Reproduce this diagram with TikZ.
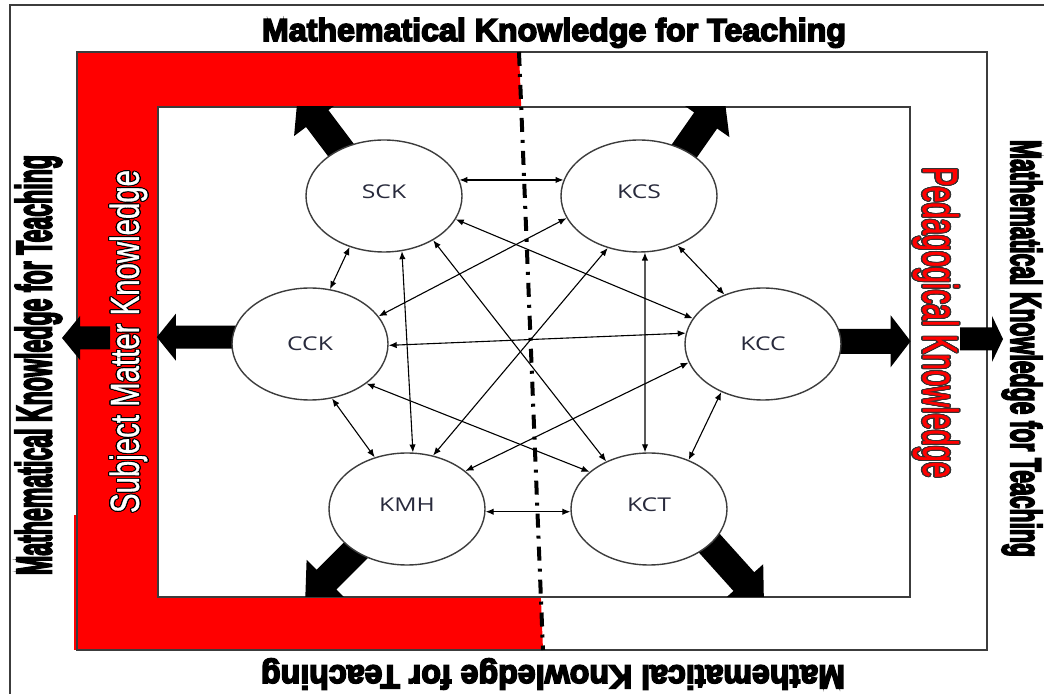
\documentclass[tikz,border=0pt]{standalone}
\usepackage{fontspec}
\setmainfont{Liberation Sans}
\newfontfamily\ttlfont{Liberation Sans}[FakeBold=5]
\newfontfamily\sidefont{Liberation Sans}[FakeBold=1]
\newfontfamily\labfont{Open Sans}[FakeStretch=1.3]
\usepackage[copies]{contour}
\contourlength{0.3pt}
\contournumber{16}
\usetikzlibrary{arrows.meta,shapes.geometric}
\definecolor{pkred}{RGB}{255,0,0}
\definecolor{edge}{RGB}{60,60,60}
\definecolor{labc}{RGB}{40,42,60}
\pgfdeclarelayer{back}
\pgfsetlayers{back,main}
\newcommand{\blkarrow}[6]{\fill[black,shift={#1},rotate=#2] (-10,-#5) -- (#3,-#5) -- (#3,-#6) -- ({#3+#4},0) -- (#3,#6) -- (#3,#5) -- (-10,#5) -- cycle;}
\tikzset{
  know/.style={ellipse, draw=edge, line width=0.7pt, fill=white, minimum width=78pt, minimum height=56pt, inner sep=0pt, font=\labfont\fontsize{9.5}{10}\selectfont, text=labc},
  link/.style={{Latex[length=4pt,width=3.2pt]}-{Latex[length=4pt,width=3.2pt]}, line width=0.55pt, black},
  frame/.style={draw=edge, line width=0.8pt},
  dashdotline/.style={black, line width=2pt, dash pattern=on 7pt off 4pt on 1.5pt off 4pt},
  txt/.style={inner sep=0pt}
}
\begin{document}
\begin{tikzpicture}[x=0.5pt,y=-0.5pt]
\useasboundingbox (0,0) rectangle (1044,694);
\clip (0,0) rectangle (1044,694);

% knowledge nodes
\node[know] (SCK) at (384,196) {\raisebox{4pt}{SCK}};
\node[know] (KCS) at (639,196) {\raisebox{4pt}{KCS}};
\node[know] (CCK) at (310,344) {CCK};
\node[know] (KCC) at (763,344) {KCC};
\node[know] (KMH) at (407,509) {\raisebox{4pt}{KMH}};
\node[know] (KCT) at (649,509) {\raisebox{4pt}{KCT}};

\begin{pgfonlayer}{back}
\fill[white] (0,0) rectangle (1044,694);
\draw[frame] (10,720) -- (10,5) -- (1060,5);
\draw[frame, fill=white] (77,52) rectangle (987,650);
\fill[pkred] (77,52) -- (519,52) -- (543,650) -- (77,650) -- cycle;
\draw[frame] (77,52) rectangle (987,650);
\draw[pkred, line width=0.6pt] (75,515) -- (75,650);
\draw[frame, fill=white] (158,107) rectangle (910,597);
\draw[dashdotline] (519,52) -- (543,650);
\begin{scope}
\clip (158,107) rectangle (910,597);
\blkarrow{(SCK.133)}{127}{38}{32}{14}{29}
\blkarrow{(KCS.45)}{55}{36}{32}{14}{29}
\blkarrow{(KMH.219)}{225}{40}{30}{14}{28}
\blkarrow{(KCT.-30)}{-48}{50}{30}{14}{26}
\end{scope}
\blkarrow{(CCK.175)}{180}{56}{19}{11.5}{23.5}
\blkarrow{(KCC.2)}{0}{49}{20}{12.5}{26}
\blkarrow{(100,338)}{180}{20}{18}{11.5}{22}
\blkarrow{(970,339)}{0}{22}{11}{11.5}{23}
\end{pgfonlayer}

% connectors
\draw[link] (SCK.12) -- (KCS.168);
\draw[link] (SCK.236) -- (CCK.70);
\draw[link] (SCK.-72) -- (KMH.84);
\draw[link] (SCK.-42) -- (KCT.132);
\draw[link] (SCK.-18) -- (KCC.160);
\draw[link] (KCS.197) -- (CCK.22);
\draw[link] (KCS.-121) -- (KMH.64);
\draw[link] (KCS.-84) -- (KCT.94);
\draw[link] (KCS.-52) -- (KCC.128);
\draw[link] (CCK.-1) -- (KCC.172);
\draw[link] (CCK.-35) -- (KCT.148);
\draw[link] (CCK.-68) -- (KMH.122);
\draw[link] (KMH.33) -- (KCC.194);
\draw[link] (KMH.-2) -- (KCT.182);
\draw[link] (KCC.-131) -- (KCT.51);

% texts
\node[txt, anchor=base] (ttop) at (554,41) {\resizebox{292pt}{11.5pt}{\ttlfont\bfseries Mathematical Knowledge for Teaching}};
\node[txt, rotate=90] (tleft) at (38.5,365) {\resizebox{210pt}{18pt}{\ttlfont\bfseries Mathematical Knowledge for Teaching}};
\node[txt, rotate=-90] (tright) at (1022,348.5) {\resizebox{208.5pt}{15.5pt}{\ttlfont\bfseries Mathematical Knowledge for Teaching}};
\node[txt, rotate=180] (tbottom) at (553,674) {\resizebox{292pt}{12pt}{\ttlfont\bfseries Mathematical Knowledge for Teaching}};
\node[txt, rotate=90] (smk) at (129,341.5) {\resizebox{171.5pt}{14.7pt}{\color{white}\contour{black}{\sidefont Subject Matter Knowledge}}};
\node[txt, rotate=-90] (pk) at (935,322.5) {\resizebox{155.5pt}{17.8pt}{\color{pkred}\contour{black!80}{\sidefont Pedagogical Knowledge}}};
\end{tikzpicture}
\end{document}
